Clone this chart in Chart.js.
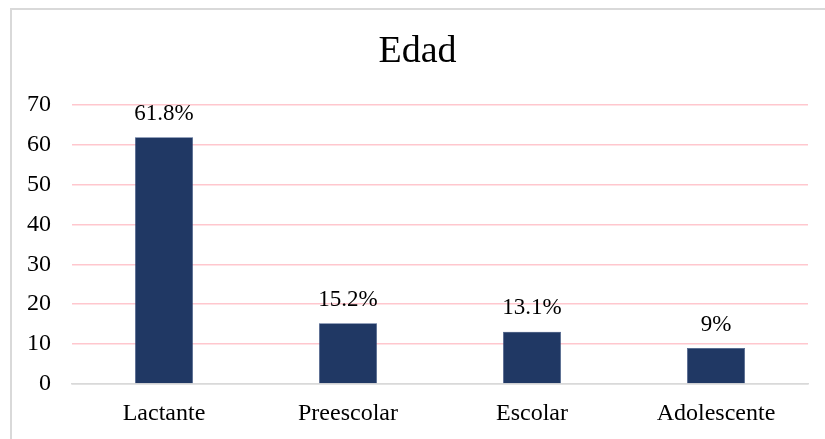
<!DOCTYPE html>
<html>
<head>
<meta charset="utf-8">
<script src="https://cdn.jsdelivr.net/npm/chart.js@4"></script>
<style>
  html, body { margin: 0; padding: 0; background: #fff; overflow: hidden; }
  #box { position: absolute; left: 10px; top: 8px; width: 840px; height: 460px;
         border-left: 2px solid #d9d9d9; border-top: 2px solid #d9d9d9; box-sizing: border-box; }
  #wrap { position: absolute; left: 10px; top: 8px; width: 825px; height: 440px; }
</style>
</head>
<body>
<div id="box"></div>
<div id="wrap"><canvas id="c" width="825" height="440"></canvas></div>
<script>
const categories = ['Lactante', 'Preescolar', 'Escolar', 'Adolescente'];
const values = [61.8, 15.2, 13.1, 9];
const valueLabels = ['61.8%', '15.2%', '13.1%', '9%'];
const yTicks = [0, 10, 20, 30, 40, 50, 60, 70];

const FONT = '"Liberation Serif", "Times New Roman", serif';

const labelPlugin = {
  id: 'valueLabels',
  afterDatasetsDraw(chart) {
    const ctx = chart.ctx;
    const meta = chart.getDatasetMeta(0);
    ctx.save();
    ctx.font = '23px ' + FONT;
    ctx.fillStyle = '#000';
    ctx.textAlign = 'center';
    ctx.textBaseline = 'bottom';
    meta.data.forEach((bar, i) => {
      ctx.fillText(valueLabels[i], bar.x, bar.y - 12);
    });
    ctx.restore();
  }
};

new Chart(document.getElementById('c'), {
  type: 'bar',
  data: {
    labels: categories,
    datasets: [{
      data: values,
      backgroundColor: '#203864',
      borderColor: '#2f4a80',
      borderWidth: 0.5,
      categoryPercentage: 1,
      barPercentage: 0.315
    }]
  },
  options: {
    responsive: false,
    animation: false,
    layout: { padding: { left: 17, right: 27, top: 0, bottom: 21 } },
    plugins: {
      legend: { display: false },
      tooltip: { enabled: false },
      title: {
        display: true,
        text: 'Edad',
        color: '#000',
        font: { family: FONT, size: 38, weight: 'normal' },
        padding: { top: 21, bottom: 30 }
      }
    },
    scales: {
      x: {
        grid: { display: false, drawTicks: false },
        border: { display: true, color: '#d9d9d9', width: 1.5 },
        ticks: { color: '#000', font: { family: FONT, size: 24 }, padding: 15 },
        afterFit(axis) { axis.height = 43; }
      },
      y: {
        min: 0, max: 70,
        afterBuildTicks(axis) { axis.ticks = yTicks.map(v => ({ value: v })); },
        grid: {
          drawTicks: false,
          color: (c) => c.tick && c.tick.value === 0 ? '#d9d9d9' : '#ffc7ce',
          lineWidth: 1.5
        },
        border: { display: false },
        ticks: { color: '#000', font: { family: FONT, size: 24 }, padding: 21 },
        afterFit(axis) { axis.width = 45; }
      }
    }
  },
  plugins: [labelPlugin]
});
</script>
</body>
</html>
